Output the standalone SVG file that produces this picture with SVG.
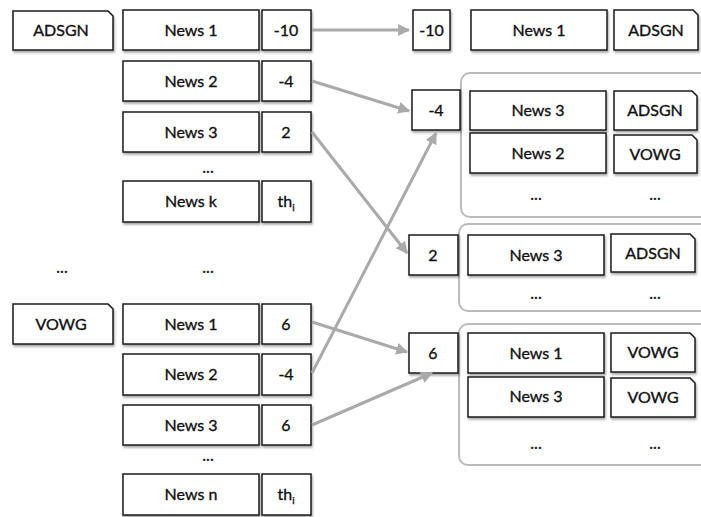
<svg xmlns="http://www.w3.org/2000/svg" width="701" height="517" viewBox="0 0 701 517">
  <defs>
    <filter id="shadow" x="-10%" y="-20%" width="130%" height="150%">
      <feDropShadow dx="1" dy="2" stdDeviation="1.2" flood-color="#000" flood-opacity="0.35"/>
    </filter>
    <marker id="arrow" viewBox="0 0 10 10" refX="9" refY="5" markerWidth="4" markerHeight="4" orient="auto" markerUnits="strokeWidth">
      <path d="M0,0 L10,5 L0,10 z" fill="#aaaaaa"/>
    </marker>
  </defs>
  <style>
    .box { fill: #ffffff; stroke: #1a1a1a; stroke-width: 1.5; filter: url(#shadow); }
    .grp { fill: #ffffff; stroke: #bbbbbb; stroke-width: 2; }
    .lbl { font-family: Lato, "Open Sans", "Liberation Sans", sans-serif; font-size: 16px; fill: #111111; stroke: #111111; stroke-width: 0.35; text-anchor: middle; }
    .dots { font-family: Lato, "Open Sans", "Liberation Sans", sans-serif; font-size: 16px; font-weight: bold; fill: #222222; text-anchor: middle; }
    .sub { font-size: 10px; }
    .conn { fill: none; stroke: #aaaaaa; stroke-width: 3; marker-end: url(#arrow); }
  </style>

  <rect width="701" height="517" fill="#ffffff"/>

  <!-- group containers on the right -->
  <g id="group-neg4">
    <rect class="grp" x="461" y="73" width="260" height="144" rx="9"/>
  </g>
  <g id="group-2">
    <rect class="grp" x="459" y="224" width="262" height="87" rx="9"/>
  </g>
  <g id="group-6">
    <rect class="grp" x="459" y="324" width="262" height="141" rx="9"/>
  </g>

  <!-- left column: category ADSGN -->
  <g id="tag-adsgn">
    <path class="box" d="M13,11 H108 L113,16 V50 H13 Z"/>
    <text class="lbl" x="61" y="36">ADSGN</text>
  </g>
  <g id="a-news1">
    <rect class="box" x="123" y="10" width="136" height="40"/>
    <text class="lbl" x="191" y="36">News 1</text>
    <rect class="box" x="262" y="10" width="49" height="40"/>
    <text class="lbl" x="286" y="36">-10</text>
  </g>
  <g id="a-news2">
    <rect class="box" x="123" y="61" width="136" height="40"/>
    <text class="lbl" x="191" y="87">News 2</text>
    <rect class="box" x="262" y="61" width="49" height="40"/>
    <text class="lbl" x="286" y="87">-4</text>
  </g>
  <g id="a-news3">
    <rect class="box" x="123" y="112" width="136" height="40"/>
    <text class="lbl" x="191" y="138">News 3</text>
    <rect class="box" x="262" y="112" width="49" height="40"/>
    <text class="lbl" x="286" y="138">2</text>
  </g>
  <text class="dots" x="208" y="173">...</text>
  <g id="a-newsk">
    <rect class="box" x="123" y="181" width="136" height="41"/>
    <text class="lbl" x="191" y="207">News k</text>
    <rect class="box" x="262" y="181" width="49" height="41"/>
    <text class="lbl" x="286" y="207">th<tspan class="sub" dy="4">i</tspan></text>
  </g>

  <text class="dots" x="62" y="273">...</text>
  <text class="dots" x="208" y="273">...</text>

  <!-- left column: category VOWG -->
  <g id="tag-vowg">
    <path class="box" d="M13,304 H108 L113,309 V344 H13 Z"/>
    <text class="lbl" x="61" y="330">VOWG</text>
  </g>
  <g id="v-news1">
    <rect class="box" x="123" y="304" width="136" height="40"/>
    <text class="lbl" x="191" y="330">News 1</text>
    <rect class="box" x="262" y="304" width="49" height="40"/>
    <text class="lbl" x="286" y="330">6</text>
  </g>
  <g id="v-news2">
    <rect class="box" x="123" y="354" width="136" height="41"/>
    <text class="lbl" x="191" y="380">News 2</text>
    <rect class="box" x="262" y="354" width="49" height="41"/>
    <text class="lbl" x="286" y="380">-4</text>
  </g>
  <g id="v-news3">
    <rect class="box" x="123" y="405" width="136" height="40"/>
    <text class="lbl" x="191" y="431">News 3</text>
    <rect class="box" x="262" y="405" width="49" height="40"/>
    <text class="lbl" x="286" y="431">6</text>
  </g>
  <text class="dots" x="208" y="461">...</text>
  <g id="v-newsn">
    <rect class="box" x="123" y="474" width="136" height="41"/>
    <text class="lbl" x="191" y="500">News n</text>
    <rect class="box" x="262" y="474" width="49" height="41"/>
    <text class="lbl" x="286" y="500">th<tspan class="sub" dy="4">i</tspan></text>
  </g>

  <!-- right side: sorted scores -->
  <g id="r-neg10">
    <rect class="box" x="413" y="10" width="37" height="40"/>
    <text class="lbl" x="431.5" y="36">-10</text>
    <rect class="box" x="471" y="10" width="136" height="40"/>
    <text class="lbl" x="539" y="36">News 1</text>
    <path class="box" d="M614,10 H693 L698,15 V50 H614 Z"/>
    <text class="lbl" x="656" y="36">ADSGN</text>
  </g>

  <g id="r-neg4">
    <rect class="box" x="412" y="90" width="48" height="40"/>
    <text class="lbl" x="436" y="116">-4</text>
    <rect class="box" x="470" y="91" width="136" height="39"/>
    <text class="lbl" x="538" y="116">News 3</text>
    <path class="box" d="M614,91 H692 L697,96 V130 H614 Z"/>
    <text class="lbl" x="655" y="116">ADSGN</text>
    <rect class="box" x="470" y="133" width="136" height="40"/>
    <text class="lbl" x="538" y="159">News 2</text>
    <path class="box" d="M614,135 H692 L697,140 V173 H614 Z"/>
    <text class="lbl" x="655" y="160">VOWG</text>
    <text class="dots" x="536" y="200">...</text>
    <text class="dots" x="655" y="200">...</text>
  </g>

  <g id="r-2">
    <rect class="box" x="409" y="235" width="49" height="40"/>
    <text class="lbl" x="433" y="261">2</text>
    <rect class="box" x="468" y="235" width="136" height="40"/>
    <text class="lbl" x="536" y="261">News 3</text>
    <path class="box" d="M611,234 H690 L695,239 V272 H611 Z"/>
    <text class="lbl" x="653" y="259">ADSGN</text>
    <text class="dots" x="536" y="299">...</text>
    <text class="dots" x="655" y="299">...</text>
  </g>

  <g id="r-6">
    <rect class="box" x="409" y="333" width="49" height="40"/>
    <text class="lbl" x="433" y="359">6</text>
    <rect class="box" x="468" y="333" width="136" height="40"/>
    <text class="lbl" x="536" y="359">News 1</text>
    <path class="box" d="M611,333 H690 L695,338 V372 H611 Z"/>
    <text class="lbl" x="653" y="358">VOWG</text>
    <rect class="box" x="468" y="377" width="136" height="40"/>
    <text class="lbl" x="536" y="402">News 3</text>
    <path class="box" d="M611,378 H690 L695,383 V417 H611 Z"/>
    <text class="lbl" x="653" y="403">VOWG</text>
    <text class="dots" x="536" y="449">...</text>
    <text class="dots" x="655" y="449">...</text>
  </g>

  <!-- connectors -->
  <g id="connectors">
    <line class="conn" x1="312" y1="30" x2="409" y2="30"/>
    <line class="conn" x1="312" y1="81" x2="409" y2="111"/>
    <line class="conn" x1="312" y1="132" x2="407" y2="253"/>
    <line class="conn" x1="312" y1="322" x2="407" y2="352"/>
    <line class="conn" x1="312" y1="373" x2="436" y2="133"/>
    <line class="conn" x1="312" y1="425" x2="432" y2="373"/>
  </g>
</svg>
